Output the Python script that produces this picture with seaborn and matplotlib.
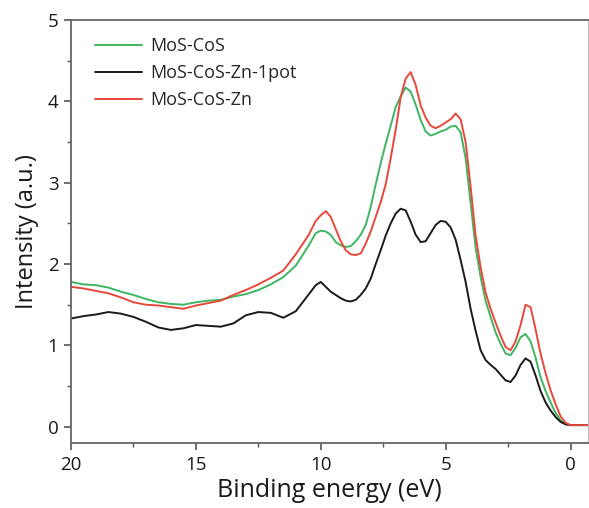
import numpy as np
import pandas as pd
import matplotlib
matplotlib.use("Agg")
import matplotlib.pyplot as plt
import seaborn as sns
from matplotlib.ticker import MultipleLocator

energy = [20, 19.5, 19, 18.5, 18, 17.5, 17, 16.5, 16, 15.5, 15, 14.5, 14, 13.5, 13, 12.5, 12, 11.5, 11,
          10.5, 10.2, 10, 9.8, 9.6, 9.4, 9.2, 9.0, 8.8, 8.6, 8.4, 8.2, 8.0, 7.8, 7.6, 7.4, 7.2, 7.0,
          6.8, 6.6, 6.4, 6.2, 6.0, 5.8, 5.6, 5.4, 5.2, 5.0, 4.8, 4.6, 4.4, 4.2, 4.0, 3.8, 3.6, 3.4,
          3.2, 3.0, 2.8, 2.6, 2.4, 2.2, 2.0, 1.8, 1.6, 1.4, 1.2, 1.0, 0.8, 0.6, 0.4, 0.2, 0.0,
          -0.2, -0.4, -0.7]

mos_cos = [1.78, 1.75, 1.74, 1.71, 1.66, 1.62, 1.57, 1.53, 1.51, 1.50, 1.53, 1.55, 1.56, 1.60, 1.63,
           1.68, 1.75, 1.84, 1.98, 2.22, 2.38, 2.41, 2.40, 2.36, 2.27, 2.23, 2.21, 2.22, 2.28, 2.36,
           2.48, 2.70, 2.98, 3.24, 3.48, 3.70, 3.93, 4.06, 4.17, 4.12, 3.96, 3.77, 3.63, 3.58, 3.60,
           3.63, 3.65, 3.69, 3.70, 3.62, 3.30, 2.75, 2.20, 1.84, 1.55, 1.35, 1.16, 1.02, 0.90, 0.88,
           0.97, 1.10, 1.14, 1.05, 0.85, 0.61, 0.44, 0.30, 0.17, 0.08, 0.03, 0.02, 0.02, 0.02, 0.02]

mos_cos_zn_1pot = [1.33, 1.36, 1.38, 1.41, 1.39, 1.35, 1.29, 1.22, 1.19, 1.21, 1.25, 1.24, 1.23, 1.27,
                   1.37, 1.41, 1.40, 1.34, 1.42, 1.62, 1.74, 1.78, 1.72, 1.66, 1.62, 1.58, 1.55, 1.54,
                   1.56, 1.62, 1.70, 1.82, 2.00, 2.17, 2.35, 2.50, 2.62, 2.68, 2.66, 2.52, 2.36, 2.27,
                   2.28, 2.38, 2.48, 2.53, 2.52, 2.45, 2.30, 2.05, 1.78, 1.45, 1.18, 0.94, 0.82, 0.76,
                   0.71, 0.64, 0.57, 0.55, 0.63, 0.76, 0.84, 0.80, 0.63, 0.44, 0.30, 0.20, 0.12, 0.06,
                   0.03, 0.02, 0.02, 0.02, 0.02]

mos_cos_zn = [1.72, 1.70, 1.67, 1.64, 1.59, 1.53, 1.50, 1.49, 1.47, 1.45, 1.49, 1.52, 1.55, 1.62, 1.68,
              1.75, 1.83, 1.92, 2.12, 2.35, 2.53, 2.60, 2.65, 2.58, 2.43, 2.28, 2.17, 2.12, 2.11, 2.13,
              2.25, 2.40, 2.58, 2.76, 2.98, 3.30, 3.65, 4.05, 4.28, 4.36, 4.20, 3.95, 3.80, 3.70, 3.67,
              3.70, 3.74, 3.78, 3.85, 3.78, 3.50, 2.95, 2.35, 1.96, 1.65, 1.45, 1.28, 1.12, 0.98, 0.94,
              1.05, 1.25, 1.50, 1.47, 1.20, 0.90, 0.66, 0.45, 0.28, 0.13, 0.05, 0.02, 0.02, 0.02, 0.02]

labels = ["MoS-CoS", "MoS-CoS-Zn-1pot", "MoS-CoS-Zn"]
colors = {"MoS-CoS": "#3fb562", "MoS-CoS-Zn-1pot": "#1a1a1a", "MoS-CoS-Zn": "#e8483b"}

df = pd.concat([
    pd.DataFrame({"energy": energy, "intensity": vals, "sample": lab})
    for lab, vals in zip(labels, [mos_cos, mos_cos_zn_1pot, mos_cos_zn])
], ignore_index=True)

sns.set_theme(style="ticks")
plt.rcParams["font.family"] = ["Open Sans", "DejaVu Sans"]

fig = plt.figure(figsize=(5.89, 5.08), dpi=100)
ax = fig.add_axes([71/589, 1 - 443/508, (588-71)/589, (443-20)/508])

sns.lineplot(data=df, x="energy", y="intensity", hue="sample", hue_order=labels,
             palette=colors, estimator=None, sort=False, linewidth=1.4, ax=ax)

ax.set_xlim(20, -0.7)
ax.set_ylim(-0.2, 5)
ax.xaxis.set_major_locator(MultipleLocator(5))
ax.xaxis.set_minor_locator(MultipleLocator(2.5))
ax.yaxis.set_major_locator(MultipleLocator(1))
ax.yaxis.set_minor_locator(MultipleLocator(0.5))
ax.tick_params(which="major", direction="out", length=5, width=1.2, color="#555555",
               labelsize=13.5, pad=4, labelcolor="#1a1a1a")
ax.tick_params(which="minor", direction="out", length=3, width=1.0, color="#555555")
for side in ["left", "bottom", "top", "right"]:
    ax.spines[side].set_color("#666666")
    ax.spines[side].set_linewidth(1.3)
ax.spines["right"].set_linewidth(0.8)
ax.spines["right"].set_color("#bbbbbb")

ax.set_xlabel("Binding energy (eV)", fontsize=18, color="#1a1a1a", labelpad=3)
ax.set_ylabel("Intensity (a.u.)", fontsize=17, color="#1a1a1a", labelpad=6)

leg = ax.legend(loc="upper left", bbox_to_anchor=(0.025, 0.985), frameon=False, fontsize=13,
                handlelength=2.6, handletextpad=0.5, labelspacing=0.5, borderaxespad=0.2)
for line in leg.get_lines():
    line.set_linewidth(1.4)

fig.savefig("out.png", dpi=100)
